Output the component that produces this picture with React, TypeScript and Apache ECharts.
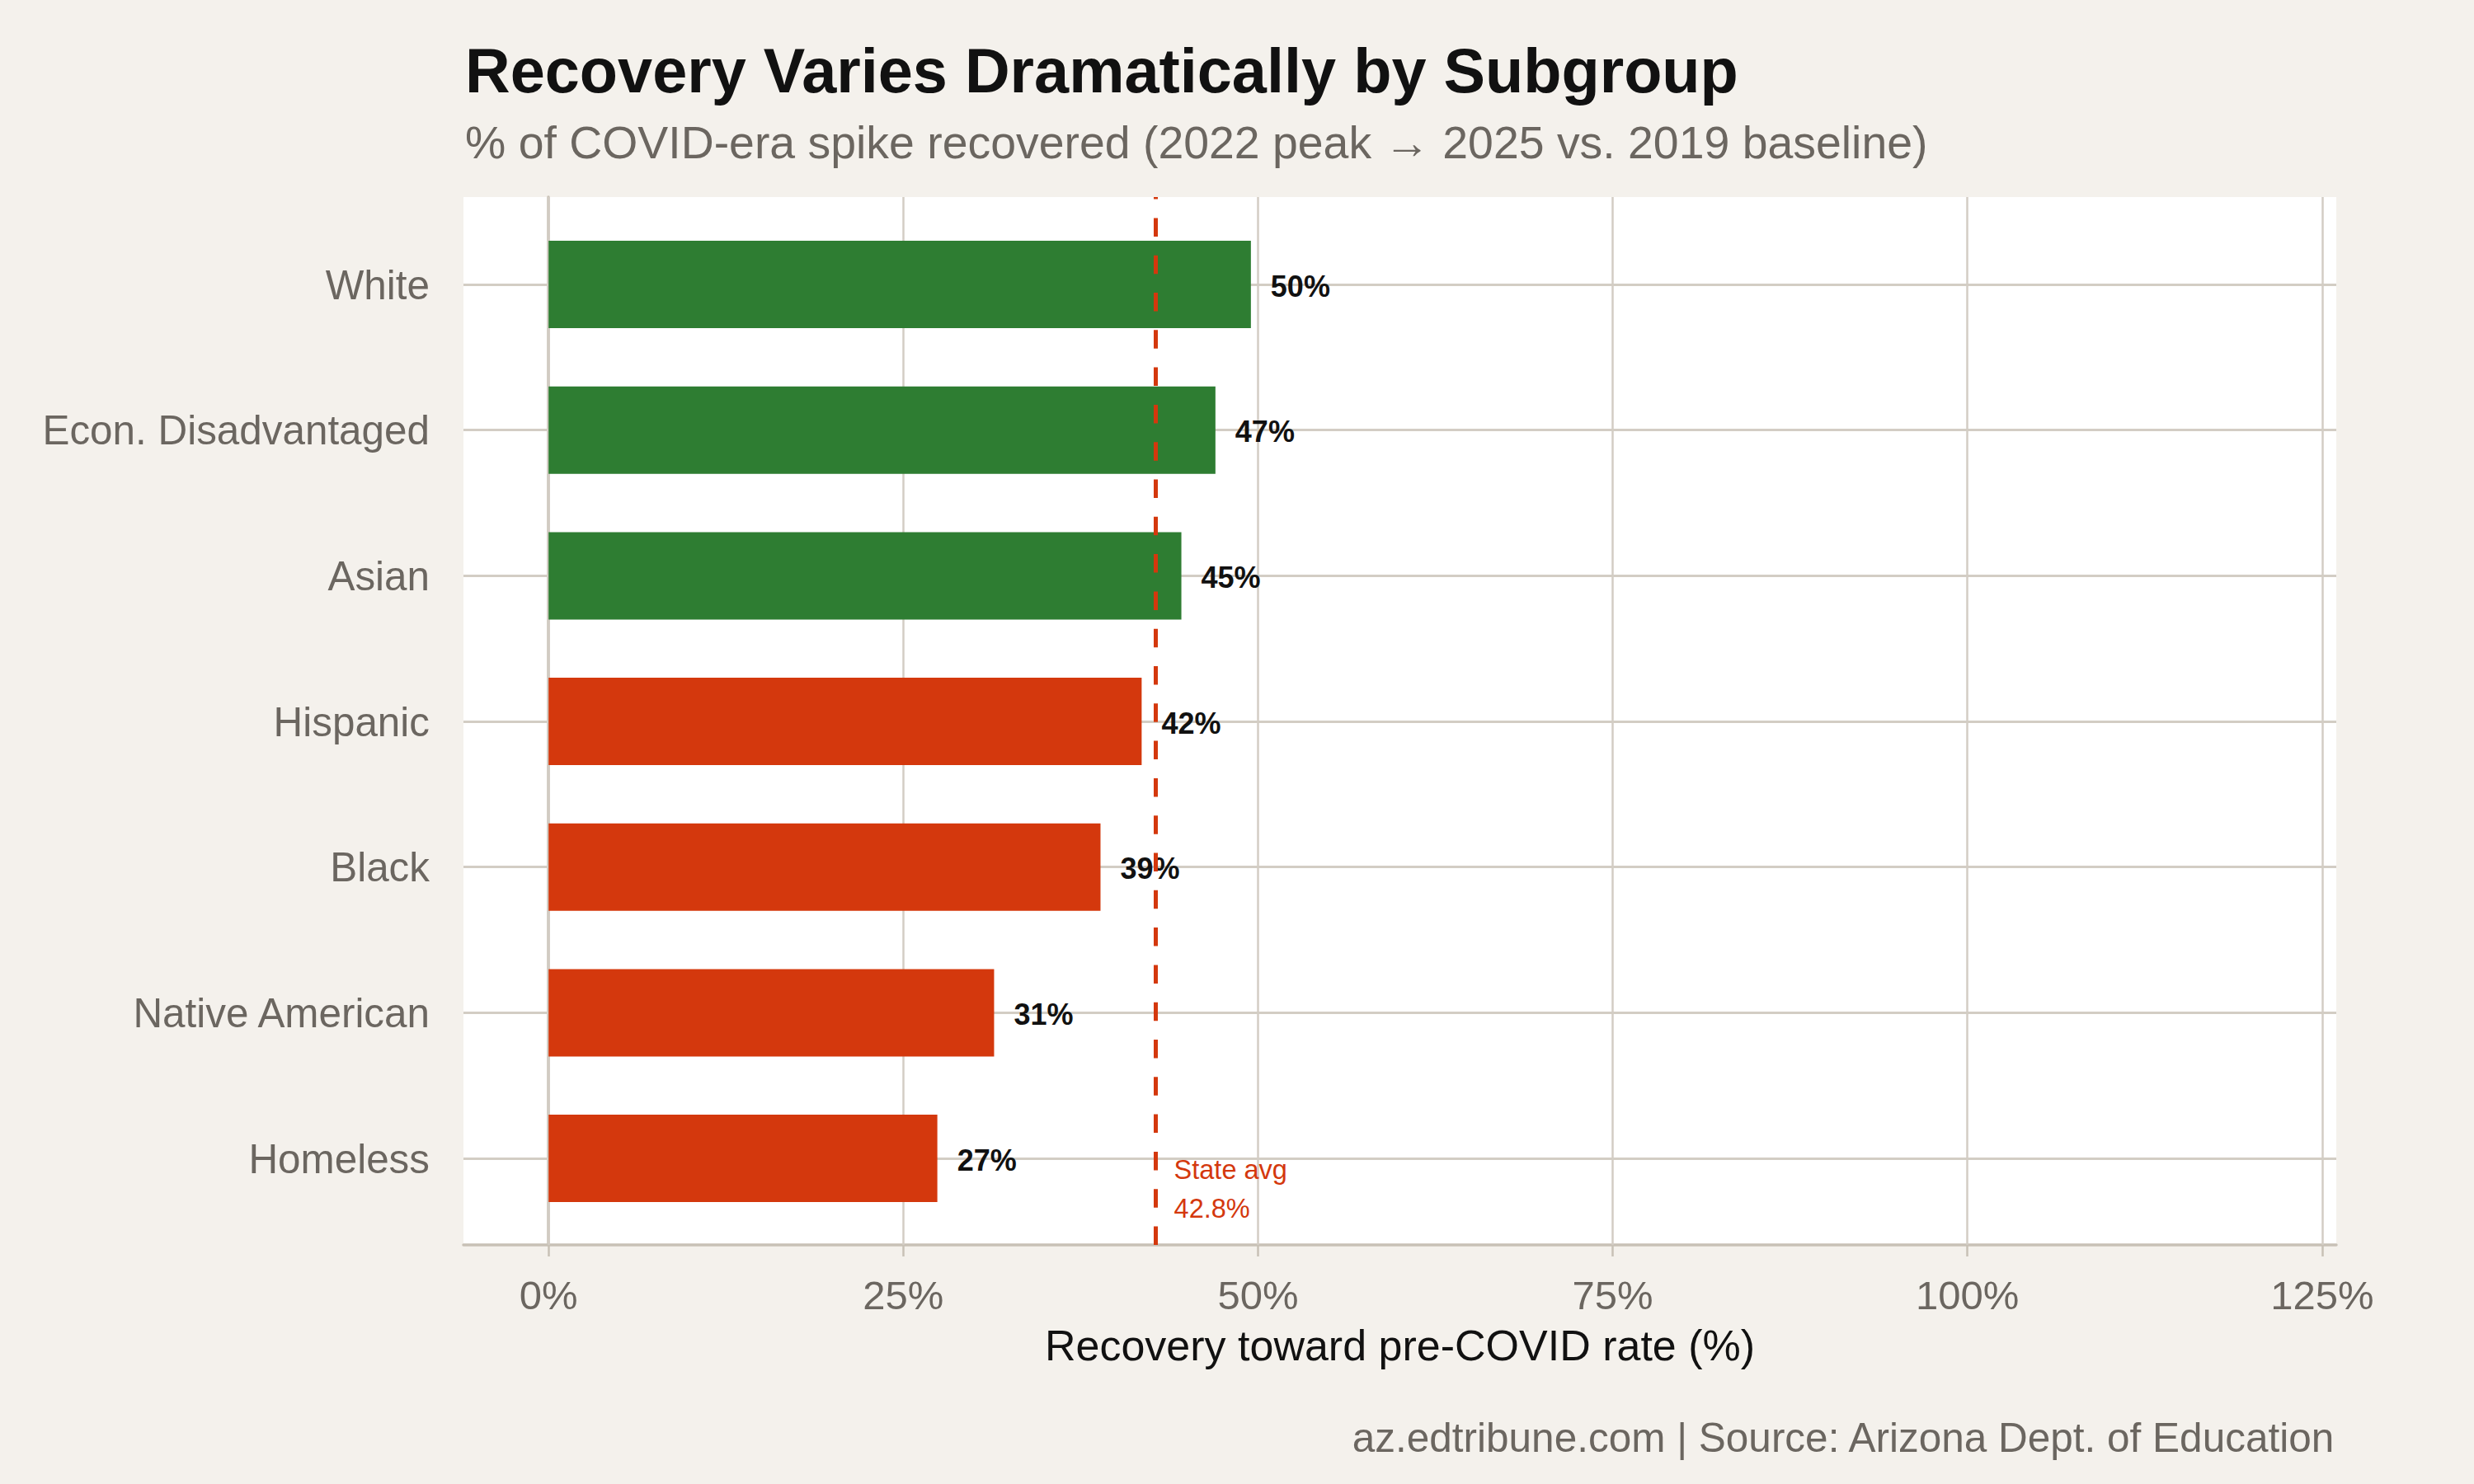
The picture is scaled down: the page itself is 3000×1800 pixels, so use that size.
import { useEffect, useRef } from "react";
import * as echarts from "echarts";

// Recovery by subgroup, top to bottom as drawn
const GROUPS = [
  "White",
  "Econ. Disadvantaged",
  "Asian",
  "Hispanic",
  "Black",
  "Native American",
  "Homeless",
];
const RECOVERY = [49.5, 47.0, 44.6, 41.8, 38.9, 31.4, 27.4];
const STATE_AVG = 42.8;
const X_TICKS = [0, 25, 50, 75, 100, 125];

const GREEN = "#2e7d32";
const RED = "#d4380d";
const BG = "#f4f1ec";
const GRID = "#d3cdc4";
const AXIS = "#c8c1b6";
const MUTED = "#6b6660";
const FONT = "Liberation Sans";

export default function App() {
  const chartRef = useRef<HTMLDivElement>(null);

  useEffect(() => {
    document.body.style.margin = "0";
    if (!chartRef.current) return;
    const chart = echarts.init(chartRef.current, null, { renderer: "svg" });

    // panel box (white area) and the band grid the bars sit in
    const panel = { left: 562, top: 239, width: 2271, height: 1271 };
    const band = { left: 562, top: 256.7, width: 2271, height: 1236.7 };

    const option: echarts.EChartsOption = {
      animation: false,
      backgroundColor: BG,
      textStyle: { fontFamily: FONT },
      title: [
        {
          text: "Recovery Varies Dramatically by Subgroup",
          left: 564,
          top: 47,
          padding: 0,
          textStyle: { fontFamily: FONT, fontSize: 75.7, fontWeight: "bold", color: "#111111" },
        },
        {
          text: "% of COVID-era spike recovered (2022 peak \u2192 2025 vs. 2019 baseline)",
          left: 564,
          top: 145,
          padding: 0,
          textStyle: { fontFamily: FONT, fontSize: 55.4, fontWeight: "normal", color: MUTED },
        },
        {
          text: "az.edtribune.com | Source: Arizona Dept. of Education",
          right: 167,
          top: 1718,
          padding: 0,
          textStyle: { fontFamily: FONT, fontSize: 49.5, fontWeight: "normal", color: MUTED },
        },
      ],
      grid: [
        { ...panel, show: true, backgroundColor: "#ffffff", borderWidth: 0 },
        { ...band, show: false },
      ],
      xAxis: [
        {
          gridIndex: 0,
          type: "value",
          min: -6,
          max: 126,
          axisLine: { show: true, lineStyle: { color: AXIS, width: 3.5 } },
          axisTick: {
            show: true,
            customValues: X_TICKS,
            length: 14,
            lineStyle: { color: AXIS, width: 2.5 },
          },
          axisLabel: {
            customValues: X_TICKS,
            formatter: "{value}%",
            fontFamily: FONT,
            fontSize: 49,
            color: MUTED,
            margin: 36,
          },
          splitLine: { show: false },
          name: "Recovery toward pre-COVID rate (%)",
          nameLocation: "middle",
          nameGap: 96,
          nameTextStyle: { fontFamily: FONT, fontSize: 52, color: "#111111" },
        },
        { gridIndex: 1, type: "value", min: -6, max: 126, show: false },
      ],
      yAxis: [
        {
          gridIndex: 0,
          type: "value",
          min: 0,
          max: 1,
          axisLine: { show: true, lineStyle: { color: AXIS, width: 3.5 } },
          axisTick: { show: false },
          axisLabel: { show: false },
          splitLine: { show: false },
        },
        {
          gridIndex: 1,
          type: "category",
          inverse: true,
          data: GROUPS,
          axisLine: { show: false },
          axisTick: {
            show: true,
            alignWithLabel: true,
            length: 15,
            lineStyle: { color: AXIS, width: 2.5 },
          },
          axisLabel: { fontFamily: FONT, fontSize: 49.4, color: MUTED, margin: 41 },
          splitLine: { show: false },
        },
      ],
      series: [
        {
          // vertical grid lines across the full panel
          type: "line",
          xAxisIndex: 0,
          yAxisIndex: 0,
          data: [],
          silent: true,
          markLine: {
            silent: true,
            z: 1,
            symbol: ["none", "none"],
            label: { show: false },
            lineStyle: { color: GRID, width: 2.5, type: "solid" },
            data: X_TICKS.map((v) => ({ xAxis: v })),
          },
        },
        {
          // horizontal grid lines at each subgroup
          type: "line",
          xAxisIndex: 1,
          yAxisIndex: 1,
          data: [],
          silent: true,
          markLine: {
            silent: true,
            z: 1,
            symbol: ["none", "none"],
            label: { show: false },
            lineStyle: { color: GRID, width: 2.8, type: "solid" },
            data: GROUPS.map((g) => ({ yAxis: g })),
          },
        },
        {
          type: "bar",
          xAxisIndex: 1,
          yAxisIndex: 1,
          z: 3,
          barWidth: "60%",
          data: RECOVERY.map((v) => ({
            value: v,
            itemStyle: { color: v > STATE_AVG ? GREEN : RED },
          })),
          label: {
            show: true,
            position: "right",
            distance: 24,
            offset: [0, 2],
            formatter: (p: any) => `${Math.round(p.value)}%`,
            fontFamily: FONT,
            fontSize: 36,
            fontWeight: "bold",
            color: "#111111",
          },
          markPoint: {
            silent: true,
            symbol: "circle",
            symbolSize: 0,
            data: [{ coord: [STATE_AVG, GROUPS[GROUPS.length - 1]] }],
            label: {
              show: true,
              position: "right",
              distance: 22,
              offset: [0, 37],
              align: "left",
              formatter: `State avg\n${STATE_AVG}%`,
              fontFamily: FONT,
              fontSize: 32.5,
              lineHeight: 47,
              color: RED,
            },
          },
        },
        {
          // state average reference line
          type: "line",
          xAxisIndex: 0,
          yAxisIndex: 0,
          data: [],
          silent: true,
          markLine: {
            silent: true,
            z: 6,
            symbol: ["none", "none"],
            label: { show: false },
            lineStyle: { color: RED, width: 5, type: [22.5, 22.8] },
            data: [{ xAxis: STATE_AVG }],
          },
        },
      ],
    };

    chart.setOption(option);
    return () => chart.dispose();
  }, []);

  return <div ref={chartRef} style={{ width: 3000, height: 1800 }} />;
}
